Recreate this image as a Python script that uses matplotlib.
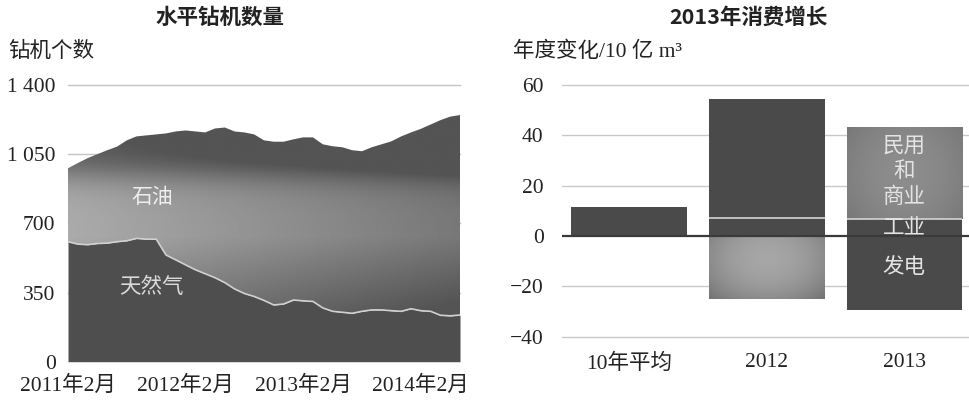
import numpy as np
import matplotlib
matplotlib.use("Agg")
import matplotlib.pyplot as plt

plt.rcParams['font.family'] = ['Noto Sans CJK SC', 'DejaVu Sans']
SERIF = ['Liberation Serif', 'Noto Sans CJK SC']

# left: horizontal rig count, monthly from 2011-02 to 2014-06
gas = [607, 595, 592, 598, 600, 607, 612, 624, 620, 620,
       540, 515, 490, 465, 445, 425, 400, 368, 345, 330,
       310, 287, 292, 312, 308, 305, 272, 255, 250, 245,
       255, 262, 262, 258, 255, 268, 258, 255, 235, 232, 236]
oil = [372, 410, 438, 452, 470, 481, 508, 516, 525, 530,
       615, 650, 680, 700, 715, 755, 785, 797, 815, 820,
       810, 826, 821, 813, 827, 830, 828, 835, 835, 825,
       810, 823, 838, 857, 885, 892, 920, 945, 987, 1008, 1012]
x_ticks = [0, 12, 24, 36]
x_labels = ['2011年2月', '2012年2月', '2013年2月', '2014年2月']
y_ticks = [0, 350, 700, 1050, 1400]
y_labels = ['0', '350', '700', '1 050', '1 400']

# right: 2013 consumption growth, bcm
categories = ['10年平均', '2012', '2013']
industry = [11.5, 7.0, 6.8]
power = [0.0, 47.5, -29.5]
res_comm = [0.0, -25.0, 36.4]
y2_ticks = [-40, -20, 0, 20, 40, 60]

DARK = '#4a4a4a'
W, H = 969, 405

fig = plt.figure(figsize=(W / 100, H / 100), dpi=100)

# ---------------- left panel
ax1 = fig.add_axes([68 / W, 1 - 361.7 / H, 392 / W, 276.7 / H])
x = np.arange(len(gas))
gas_a = np.array(gas)
total = gas_a + np.array(oil)
ax1.set_xlim(x[0], x[-1])
ax1.set_ylim(0, 1400)

for t in y_ticks[1:]:
    ax1.axhline(t, color='#c4c4c4', lw=1, zorder=1, clip_on=False)

ax1.fill_between(x, 0, gas_a, color='#4e4e4e', lw=0, zorder=2)
oil_poly = ax1.fill_between(x, gas_a, total, color='none', lw=0, zorder=2)

# soft shading of the oil band: dark near the top, lighter middle-left
u = np.linspace(0, 1, 400)[None, :]
v = np.linspace(0, 1, 200)[:, None]
top_dark = 0.32 / (1 + np.exp(-(v - 0.68) / 0.035))
L = 0.67 - 0.2 * u - top_dark - 0.6 * np.maximum(0, 0.45 - v)
L = np.clip(L, 0.33, 1)
im = ax1.imshow(L, cmap='gray', vmin=0, vmax=1, origin='lower', aspect='auto',
                extent=[x[0], x[-1], 0, 1400], zorder=2, interpolation='bilinear')
im.set_clip_path(oil_poly.get_paths()[0], oil_poly.get_transform())

ax1.plot(x, gas_a, color='#d0d0d0', lw=1.2, zorder=3)

ax1.text(8.6, 828, '石油', color='#eeeeee', fontsize=15, ha='center', va='center',
         family=SERIF, zorder=4)
ax1.text(8.5, 373, '天然气', color='#dadada', fontsize=15.5, ha='center', va='center',
         family=SERIF, zorder=4)

ax1.set_xticks(x_ticks)
ax1.set_xticklabels(x_labels, family=SERIF, fontsize=15.5, color='#222222')
ax1.set_yticks(y_ticks)
ax1.set_yticklabels(y_labels, family=SERIF, fontsize=15.5, color='#222222')
ax1.tick_params(length=0)
ax1.tick_params(axis='x', pad=10)
ax1.tick_params(axis='y', pad=9)
for s in ax1.spines.values():
    s.set_visible(False)

# ---------------- right panel
ax2 = fig.add_axes([561.7 / W, 1 - 336.7 / H, (W - 561.7) / W, 251.7 / H])
ax2.set_xlim(-0.49, 2.47)
ax2.set_ylim(-40, 60)
xpos = np.arange(len(categories))
width = 0.84

for t in y2_ticks:
    if t != 0:
        ax2.axhline(t, color='#c8c8c8', lw=1, zorder=0, clip_on=False)
ax2.axhline(0, color='#3a3a3a', lw=1.6, zorder=4)

pos_b = np.zeros(len(categories))
neg_b = np.zeros(len(categories))
for vals, kind in [(industry, 'dark'), (power, 'dark'), (res_comm, 'grad')]:
    vals = np.array(vals)
    bottoms = np.where(vals >= 0, pos_b, neg_b)
    bars = ax2.bar(xpos, vals, width, bottom=bottoms,
                   color=DARK if kind == 'dark' else 'none', lw=0, zorder=2)
    if kind == 'grad':
        for b in bars:
            if b.get_height() == 0:
                continue
            y0 = min(b.get_y(), b.get_y() + b.get_height())
            y1 = max(b.get_y(), b.get_y() + b.get_height())
            uu = np.linspace(0, 1, 60)[None, :]
            ww = np.linspace(0, 1, 120)[:, None]
            if b.get_height() < 0:
                G = 0.45 + 0.10 * (1 - (2 * uu - 1) ** 2) + 0.06 * (1 - (2 * ww - 1) ** 2) + 0.07 * ww
            else:
                G = 0.47 + 0.05 * (1 - (2 * uu - 1) ** 2) + 0.03 * (1 - (2 * ww - 1) ** 2)
            ax2.imshow(G, cmap='gray', vmin=0, vmax=1, origin='lower', aspect='auto',
                       extent=[b.get_x(), b.get_x() + b.get_width(), y0, y1],
                       zorder=2, interpolation='bilinear')
    pos_b += np.maximum(vals, 0)
    neg_b += np.minimum(vals, 0)

ind = np.array(industry)
for i in range(len(categories)):
    if pos_b[i] > ind[i] > 0:
        ax2.hlines(ind[i], xpos[i] - width / 2, xpos[i] + width / 2,
                   color='#d5d5d5', lw=1.2, zorder=3)

lab = dict(color='#e4e4e4', fontsize=15.5, ha='center', va='center', family=SERIF, zorder=3)
ax2.text(2, 35.5, '民用', **lab)
ax2.text(2, 25.5, '和', **lab)
ax2.text(2, 15.2, '商业', **lab)
ax2.text(2, 2.5, '工业', **lab)
ax2.text(2, -12.6, '发电', **lab)

ax2.set_xticks(xpos)
ax2.set_xticklabels(categories, family=SERIF, fontsize=15.5, color='#222222')
ax2.set_yticks(y2_ticks)
ax2.set_yticklabels([str(t).replace('-', '\u2212') for t in y2_ticks],
                    family=SERIF, fontsize=15.5, color='#222222')
ax2.tick_params(length=0)
ax2.tick_params(axis='x', pad=12)
ax2.tick_params(axis='y', pad=13)
for s in ax2.spines.values():
    s.set_visible(False)

# titles and unit labels
fig.text(220 / W, 1 - 17 / H, '水平钻机数量', ha='center', va='center',
         fontsize=15.5, fontweight='bold', color='#222222')
fig.text(748 / W, 1 - 17 / H, '2013年消费增长', ha='center', va='center',
         fontsize=15.5, fontweight='bold', color='#222222')
fig.text(8 / W, 1 - 52 / H, '钻机个数', ha='left', va='center',
         fontsize=15.5, family=SERIF, color='#222222')
fig.text(513 / W, 1 - 52 / H, '年度变化/10 亿 m³', ha='left', va='center',
         fontsize=15.5, family=SERIF, color='#222222')

fig.savefig('out.png', dpi=100)
